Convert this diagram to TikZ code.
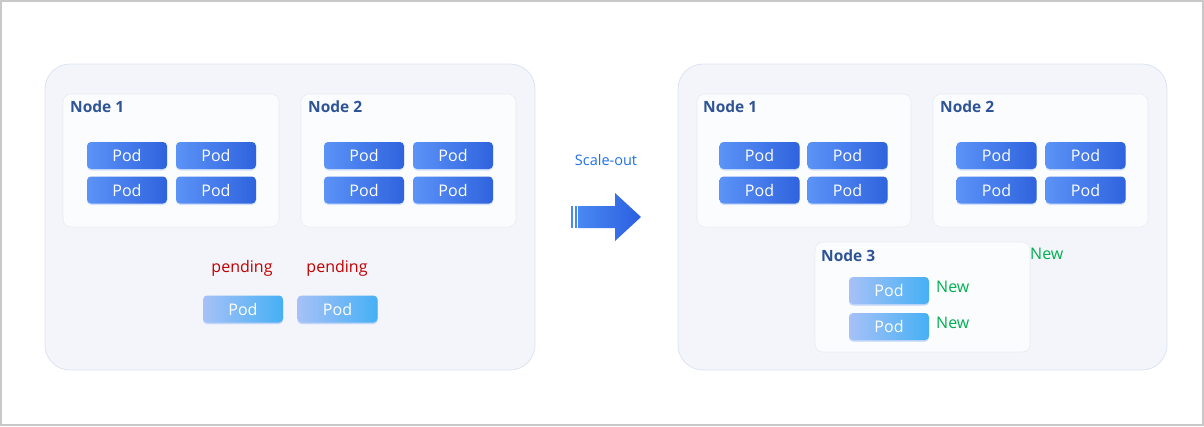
\documentclass[tikz,border=0pt]{standalone}
\usepackage{fontspec}
\setmainfont{Open Sans}
\usetikzlibrary{shadows}

\definecolor{frameline}{HTML}{C8C8C8}
\definecolor{clusterfill}{HTML}{F3F5FA}
\definecolor{clusterline}{HTML}{DCE3F1}
\definecolor{hostfill}{HTML}{FBFCFE}
\definecolor{hostline}{HTML}{DDE1EA}
\definecolor{hosttext}{HTML}{2F5496}
\definecolor{podleft}{HTML}{5B93F7}
\definecolor{podright}{HTML}{2F63DE}
\definecolor{newleft}{HTML}{A6C1F7}
\definecolor{newright}{HTML}{46B0F5}
\definecolor{pendred}{HTML}{C00000}
\definecolor{newgreen}{HTML}{00B050}
\definecolor{scaleblue}{HTML}{1F6FE6}
\definecolor{arrowleft}{HTML}{4A88F2}
\definecolor{arrowright}{HTML}{2A5FE0}

\tikzset{
  cluster/.style={draw=clusterline, fill=clusterfill, line width=0.8pt,
    rounded corners=25pt},
  hostbox/.style={draw=hostline, fill=hostfill, line width=0.6pt,
    dash pattern=on 1pt off 1pt, rounded corners=8pt},
  hostname/.style={anchor=west, inner sep=0pt, text=hosttext,
    font=\fontsize{15.5}{18}\selectfont\bfseries},
  pod/.style={rounded corners=4pt, minimum width=80pt, minimum height=27pt,
    inner sep=0pt, left color=podleft, right color=podright, text=white,
    font=\fontsize{16}{18}\selectfont,
    drop shadow={shadow xshift=0pt, shadow yshift=-1.5pt, fill=podleft, opacity=0.25}},
  newpod/.style={pod, left color=newleft, right color=newright,
    drop shadow={shadow xshift=0pt, shadow yshift=-1.5pt, fill=newleft, opacity=0.3}},
  pendtag/.style={text=pendred, inner sep=0pt, font=\fontsize{16}{18}\selectfont},
  newtag/.style={anchor=west, text=newgreen, inner sep=0pt, font=\fontsize{16}{18}\selectfont},
}

\begin{document}
\begin{tikzpicture}[x=1pt, y=-1pt]
\useasboundingbox (0,0) rectangle (1204,426);
\draw[frameline, line width=2pt] (1,1) rectangle (1203,425);

% Cluster before
\draw[cluster] (45,64) rectangle (535,370);
\draw[hostbox] (63,94) rectangle (279,227);
\draw[hostbox] (301,94) rectangle (516,227);
\node[hostname] (lhost1) at (70,107) {Node 1};
\node[hostname] (lhost2) at (308,107) {Node 2};
\foreach \x [count=\i] in {127,216,364,453}
  \foreach \y [count=\j] in {155.5,190}
    \node[pod] (lpod\i\j) at (\x,\y) {Pod};

% Pending pods
\node[pendtag] (pend1) at (242,268) {pending};
\node[pendtag] (pend2) at (337,268) {pending};
\node[newpod] (lwait1) at (243,309) {Pod};
\node[newpod] (lwait2) at (337.5,309) {Pod};

% Scale-out arrow
\node[text=scaleblue, inner sep=0pt, font=\fontsize{14.5}{17}\selectfont] (scale) at (606,160) {Scale-out};
\foreach \s in {571,574.5}
  \fill[arrowleft] (\s,206) rectangle ++(2,22);
\shade[left color=arrowleft, right color=arrowright]
  (578,206) -- (615,206) -- (615,193) -- (641,217) -- (615,241) -- (615,228) -- (578,228) -- cycle;

% Cluster after
\draw[cluster] (678,64) rectangle (1167,370);
\draw[hostbox] (697,94) rectangle (911,227);
\draw[hostbox] (933,94) rectangle (1148,227);
\draw[hostbox] (815,242) rectangle (1030,352);
\node[hostname] (rhost1) at (703,107) {Node 1};
\node[hostname] (rhost2) at (940,107) {Node 2};
\node[hostname] (rhost3) at (821,256) {Node 3};
\foreach \x [count=\i] in {759.5,847.5,996.5,1085.5}
  \foreach \y [count=\j] in {155.5,190}
    \node[pod] (rpod\i\j) at (\x,\y) {Pod};
\node[newpod] (rnew1) at (889,290.5) {Pod};
\node[newpod] (rnew2) at (889,326.5) {Pod};
\node[newtag] (tag1) at (936,287) {New};
\node[newtag] (tag2) at (936,323) {New};
\node[newtag] (tag3) at (1030,254) {New};

\end{tikzpicture}
\end{document}
